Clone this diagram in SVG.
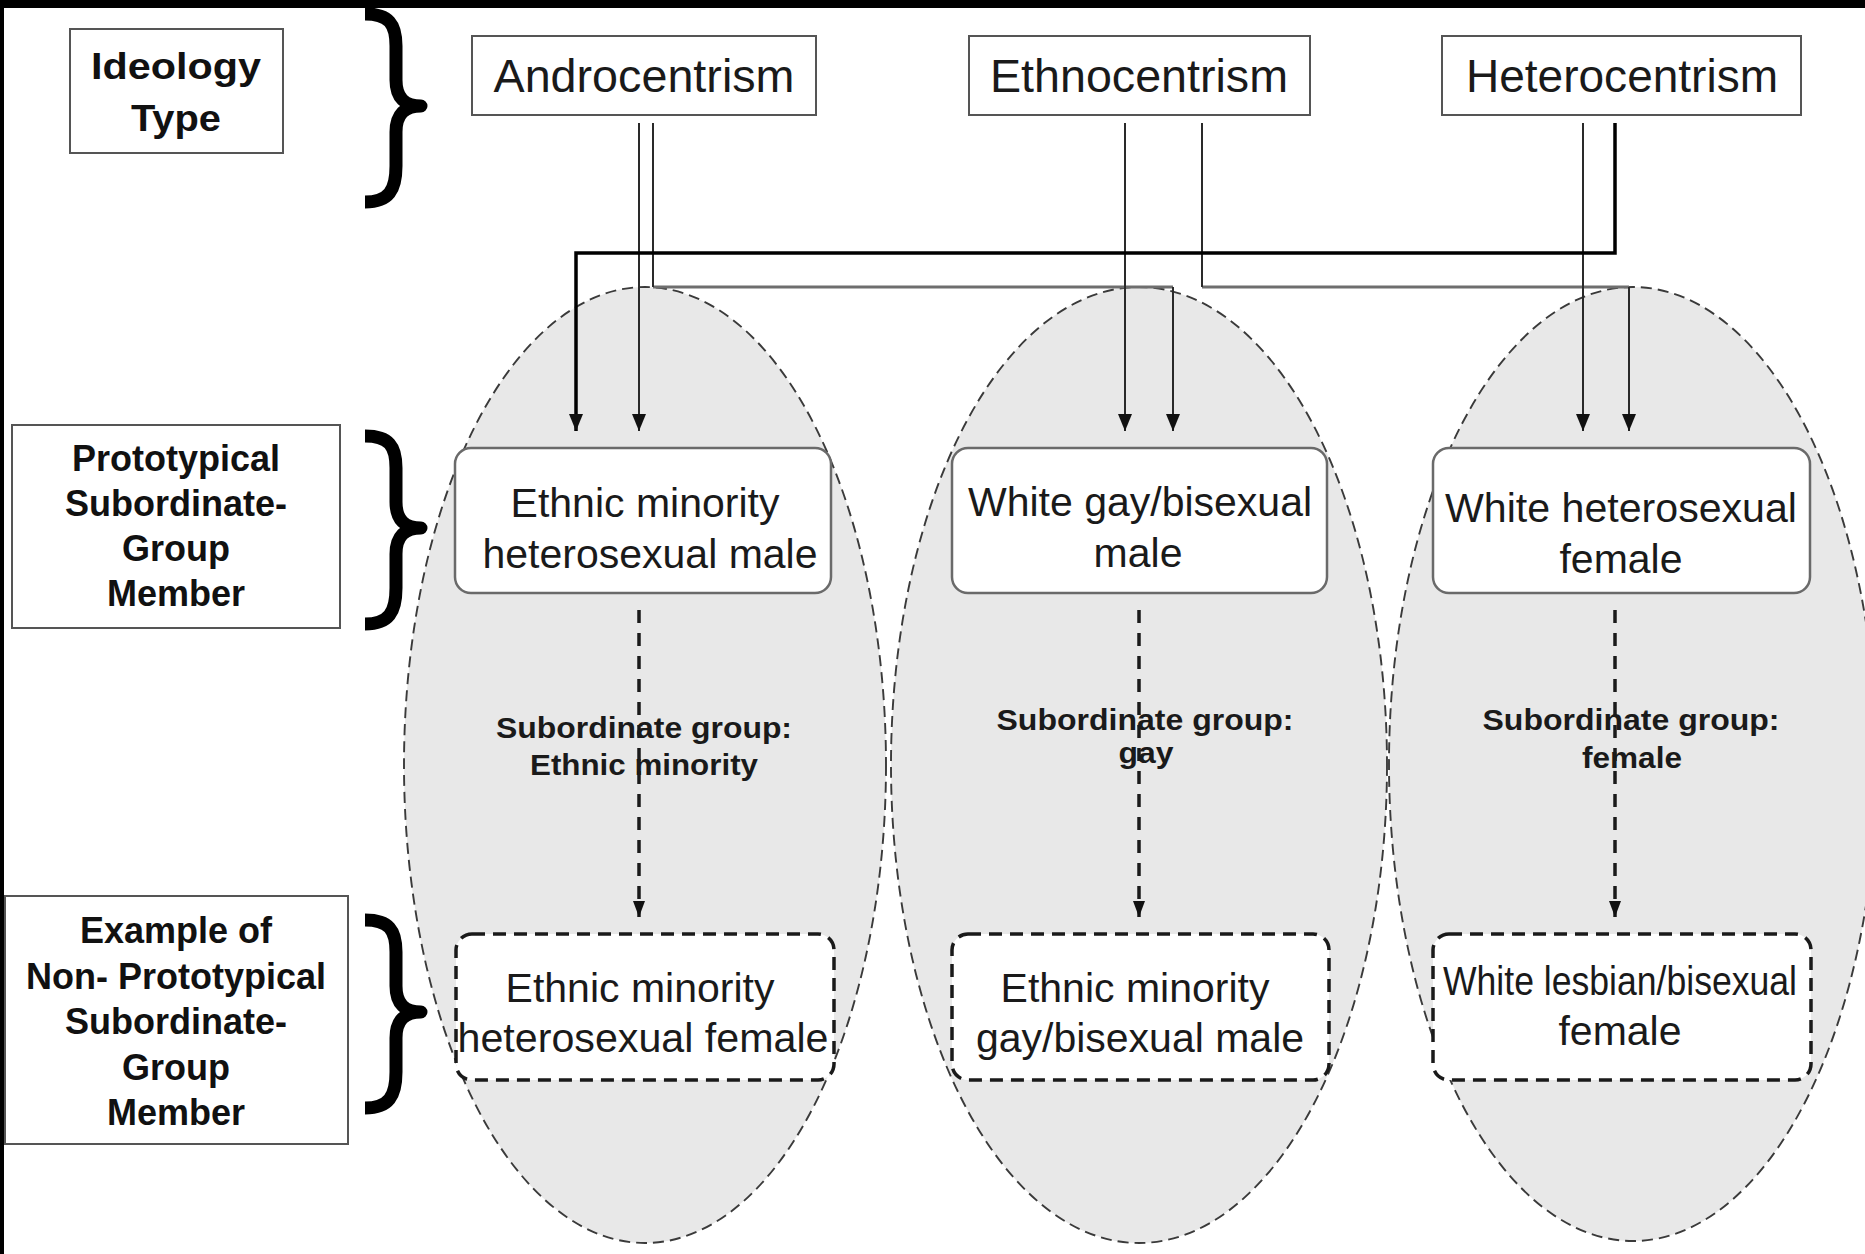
<svg xmlns="http://www.w3.org/2000/svg" width="1865" height="1254" viewBox="0 0 1865 1254">
  <style>
    .lbl { fill: #ffffff; stroke: #555555; stroke-width: 2; }
    .lbltxt { font-family: "Liberation Sans", Arial, sans-serif; font-weight: bold; font-size: 36px; fill: #111111; text-anchor: middle; }
    .ideo { fill: #ffffff; stroke: #555555; stroke-width: 2; }
    .ideotxt { font-family: "Liberation Sans", Arial, sans-serif; font-size: 47px; fill: #1a1a1a; text-anchor: middle; }
    .proto { fill: #ffffff; stroke: #6a6a6a; stroke-width: 2.5; }
    .nontxt, .prototxt { font-family: "Liberation Sans", Arial, sans-serif; font-size: 41px; fill: #1a1a1a; text-anchor: middle; }
    .nonproto { fill: #ffffff; stroke: #1a1a1a; stroke-width: 3.5; stroke-dasharray: 13 8; }
    .sub { font-family: "Liberation Sans", Arial, sans-serif; font-weight: bold; font-size: 29px; fill: #1a1a1a; text-anchor: middle; }
    .ell { fill: #e8e8e8; stroke: #3a3a3a; stroke-width: 1.9; stroke-dasharray: 11 6; }
    .brace { fill: none; stroke: #000000; stroke-width: 13; stroke-linejoin: round; }
    .conn { fill: none; stroke: #2a2a2a; stroke-width: 2; }
    .conn2 { fill: none; stroke: #6e6e6e; stroke-width: 3; }
    .thick { fill: none; stroke: #000000; stroke-width: 3.5; }
    .dash { fill: none; stroke: #1a1a1a; stroke-width: 3.5; stroke-dasharray: 13 10; }
  </style>
  <defs>
    <marker id="arr" viewBox="0 -7 17 14" refX="17" refY="0" markerWidth="17" markerHeight="14" markerUnits="userSpaceOnUse" orient="auto">
      <path d="M0,-7 L17,0 L0,7 z" fill="#111111"/>
    </marker>
    <marker id="arrs" viewBox="0 -6 16 12" refX="16" refY="0" markerWidth="16" markerHeight="12" markerUnits="userSpaceOnUse" orient="auto">
      <path d="M0,-6 L16,0 L0,6 z" fill="#111111"/>
    </marker>
    <path id="bracePath" class="brace" d="M 2,8 C 26,8 33,18 33,40 L 33,74 C 33,92 42,100 58,100 C 42,100 33,108 33,126 L 33,160 C 33,184 26,196 2,196"/>
  </defs>

  <rect x="0" y="0" width="1865" height="1254" fill="#ffffff"/>

  <!-- ellipses -->
  <g id="groups">
    <ellipse id="ellipse-1" class="ell" cx="645" cy="765" rx="241" ry="478"/>
    <ellipse id="ellipse-2" class="ell" cx="1139" cy="765" rx="248" ry="478"/>
    <ellipse id="ellipse-3" class="ell" cx="1633" cy="764" rx="244" ry="477"/>
  </g>

  <!-- connectors -->
  <g id="connectors">
    <path class="conn2" d="M653,287 L1173,287"/>
    <path class="conn" d="M653,123 L653,287"/>
    <path class="conn" d="M1173,287 L1173,431" marker-end="url(#arr)"/>
    <path class="conn2" d="M1202,287 L1629,287"/>
    <path class="conn" d="M1202,123 L1202,287"/>
    <path class="conn" d="M1629,287 L1629,431" marker-end="url(#arr)"/>
    <path class="conn" d="M639,123 L639,431" marker-end="url(#arr)"/>
    <path class="conn" d="M1125,123 L1125,431" marker-end="url(#arr)"/>
    <path class="conn" d="M1583,123 L1583,431" marker-end="url(#arr)"/>
    <path class="thick" d="M1615,123 L1615,253 L576,253 L576,431" marker-end="url(#arr)"/>
  </g>

  <!-- left category labels -->
  <g id="label-ideology">
    <rect class="lbl" x="70" y="29" width="213" height="124"/>
    <text class="lbltxt" x="176" y="79" font-size="41" textLength="170" lengthAdjust="spacingAndGlyphs">Ideology</text>
    <text class="lbltxt" x="176" y="131" font-size="41" textLength="90" lengthAdjust="spacingAndGlyphs">Type</text>
  </g>
  <g id="label-prototypical">
    <rect class="lbl" x="12" y="425" width="328" height="203"/>
    <text class="lbltxt" x="176" y="471">Prototypical</text>
    <text class="lbltxt" x="176" y="516">Subordinate-</text>
    <text class="lbltxt" x="176" y="561">Group</text>
    <text class="lbltxt" x="176" y="606">Member</text>
  </g>
  <g id="label-nonprototypical">
    <rect class="lbl" x="5" y="896" width="343" height="248"/>
    <text class="lbltxt" x="176" y="943">Example of</text>
    <text class="lbltxt" x="176" y="988.5">Non- Prototypical</text>
    <text class="lbltxt" x="176" y="1034">Subordinate-</text>
    <text class="lbltxt" x="176" y="1079.5">Group</text>
    <text class="lbltxt" x="176" y="1125">Member</text>
  </g>

  <!-- braces -->
  <g id="braces">
    <use href="#bracePath" transform="translate(363,6)"/>
    <use href="#bracePath" transform="translate(363,428)"/>
    <use href="#bracePath" transform="translate(363,912)"/>
  </g>

  <!-- ideology nodes -->
  <g id="androcentrism">
    <rect class="ideo" x="472" y="36" width="344" height="79"/>
    <text class="ideotxt" x="644" y="92" textLength="301" lengthAdjust="spacingAndGlyphs">Androcentrism</text>
  </g>
  <g id="ethnocentrism">
    <rect class="ideo" x="969" y="36" width="341" height="79"/>
    <text class="ideotxt" x="1139" y="92" textLength="298" lengthAdjust="spacingAndGlyphs">Ethnocentrism</text>
  </g>
  <g id="heterocentrism">
    <rect class="ideo" x="1442" y="36" width="359" height="79"/>
    <text class="ideotxt" x="1622" y="92" textLength="312" lengthAdjust="spacingAndGlyphs">Heterocentrism</text>
  </g>

  <!-- prototypical nodes -->
  <g id="proto-1">
    <rect class="proto" x="455" y="448" width="376" height="145" rx="16" ry="16"/>
    <text class="prototxt" x="645" y="517">Ethnic minority</text>
    <text class="prototxt" x="650" y="568">heterosexual male</text>
  </g>
  <g id="proto-2">
    <rect class="proto" x="952" y="448" width="375" height="145" rx="16" ry="16"/>
    <text class="prototxt" x="1140" y="516">White gay/bisexual</text>
    <text class="prototxt" x="1138" y="567">male</text>
  </g>
  <g id="proto-3">
    <rect class="proto" x="1433" y="448" width="377" height="145" rx="16" ry="16"/>
    <text class="prototxt" x="1621" y="522" textLength="352" lengthAdjust="spacingAndGlyphs">White heterosexual</text>
    <text class="prototxt" x="1621" y="573">female</text>
  </g>

  <!-- subordinate group labels -->
  <g id="sub-1">
    <text class="sub" x="644" y="738" textLength="296" lengthAdjust="spacingAndGlyphs">Subordinate group:</text>
    <text class="sub" x="644" y="775" textLength="228" lengthAdjust="spacingAndGlyphs">Ethnic minority</text>
  </g>
  <g id="sub-2">
    <text class="sub" x="1145" y="730" textLength="297" lengthAdjust="spacingAndGlyphs">Subordinate group:</text>
    <text class="sub" x="1146" y="763" textLength="55" lengthAdjust="spacingAndGlyphs">gay</text>
  </g>
  <g id="sub-3">
    <text class="sub" x="1631" y="730" textLength="297" lengthAdjust="spacingAndGlyphs">Subordinate group:</text>
    <text class="sub" x="1632" y="768" textLength="100" lengthAdjust="spacingAndGlyphs">female</text>
  </g>

  <!-- dashed arrows -->
  <g id="dashed-connectors">
    <path class="dash" d="M639,610 L639,917" marker-end="url(#arrs)"/>
    <path class="dash" d="M1139,610 L1139,917" marker-end="url(#arrs)"/>
    <path class="dash" d="M1615,610 L1615,917" marker-end="url(#arrs)"/>
  </g>

  <!-- non-prototypical nodes -->
  <g id="nonproto-1">
    <rect class="nonproto" x="456" y="934" width="378" height="146" rx="16" ry="16"/>
    <text class="nontxt" x="640" y="1002">Ethnic minority</text>
    <text class="nontxt" x="643" y="1052" textLength="371" lengthAdjust="spacingAndGlyphs">heterosexual female</text>
  </g>
  <g id="nonproto-2">
    <rect class="nonproto" x="952" y="934" width="377" height="146" rx="16" ry="16"/>
    <text class="nontxt" x="1135" y="1002">Ethnic minority</text>
    <text class="nontxt" x="1140" y="1052">gay/bisexual male</text>
  </g>
  <g id="nonproto-3">
    <rect class="nonproto" x="1433" y="934" width="378" height="146" rx="16" ry="16"/>
    <text class="nontxt" x="1620" y="995" textLength="354" lengthAdjust="spacingAndGlyphs">White lesbian/bisexual</text>
    <text class="nontxt" x="1620" y="1045">female</text>
  </g>

  <!-- frame edges -->
  <rect x="0" y="0" width="1865" height="8" fill="#000000"/>
  <rect x="0" y="0" width="4" height="1254" fill="#000000"/>
</svg>
